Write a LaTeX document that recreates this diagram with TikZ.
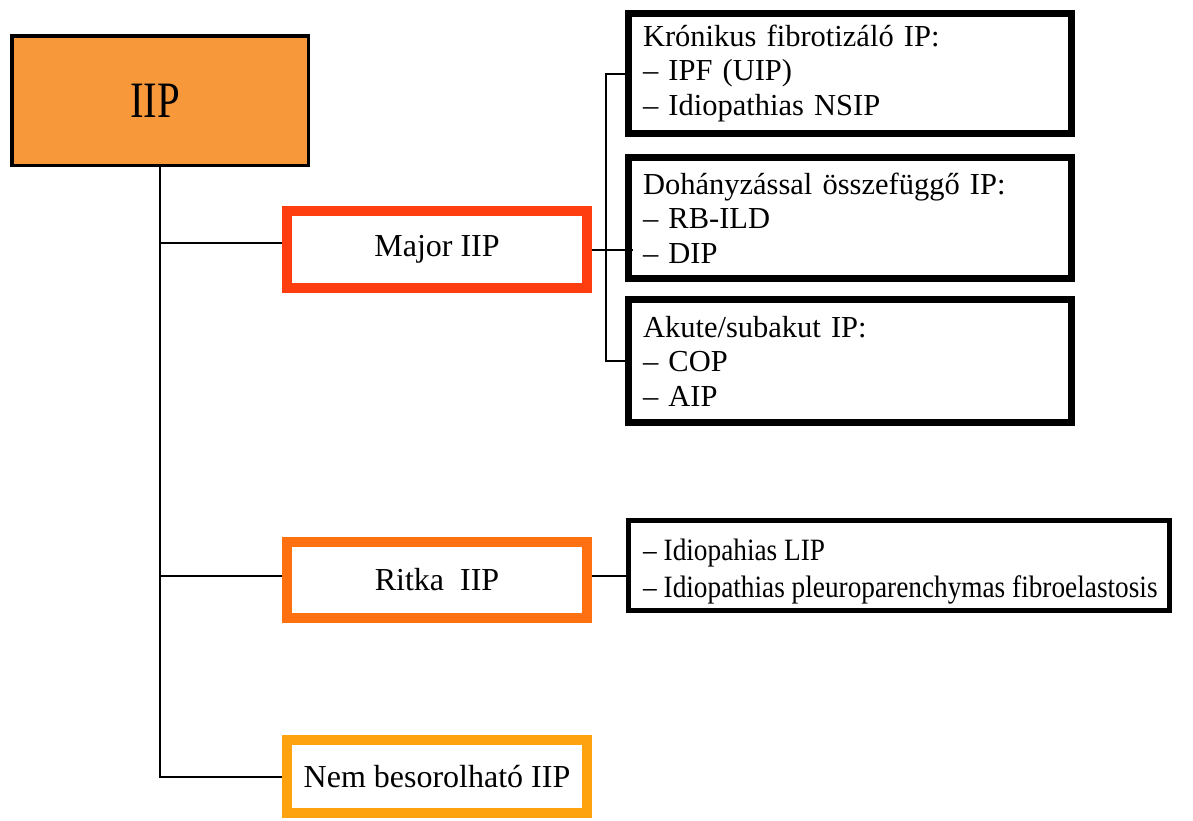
\documentclass[tikz,border=0pt]{standalone}
\usepackage{fontspec}
\setmainfont{Liberation Serif}
\usepackage{graphicx}

\definecolor{rootfill}{RGB}{247,152,58}
\definecolor{majorred}{RGB}{255,62,16}
\definecolor{rareorange}{RGB}{255,112,16}
\definecolor{otheryellow}{RGB}{255,162,16}

\tikzset{
  rootbox/.style={draw=black, line width=3.5pt, fill=rootfill, inner sep=0pt},
  groupbox/.style={draw=#1, line width=10pt, fill=white, inner sep=0pt,
                   minimum width=300pt, font=\fontsize{32}{36}\selectfont},
  listbox/.style={draw=black, line width=7pt, fill=white, inner xsep=14.5pt,
                  inner ysep=0pt, align=left, font=\fontsize{30.5}{34.5}\selectfont},
  link/.style={draw=black, line width=2pt}
}

\begin{document}
\begin{tikzpicture}[x=1pt, y=-1pt]
\useasboundingbox (0,0) rectangle (1193,820);

% root and the three main groups
\node[rootbox, minimum width=296.5pt, minimum height=129.5pt] (iip) at (160,100.5)
  {\hspace*{-10pt}\scalebox{0.8}[1]{\fontsize{51}{55}\selectfont IIP}};
\node[groupbox=majorred, minimum height=77pt] (major) at (437,249.5) {Major IIP};
\node[groupbox=rareorange, minimum height=76pt] (ritka) at (437,580) {Ritka~ IIP};
\node[groupbox=otheryellow, minimum height=73pt] (nem) at (437,776.5) {Nem besorolható IIP};

% subgroups of the major IIP
\node[listbox, text width=414pt, minimum height=120pt] (box1) at (850,73.5)
  {Krónikus fibrotizáló IP:\\– IPF (UIP)\\– Idiopathias NSIP};
\node[listbox, text width=414pt, minimum height=121pt] (box2) at (850,218)
  {Dohányzással összefüggő IP:\\– RB-ILD\\– DIP};
\node[listbox, text width=414pt, minimum height=123pt] (box3) at (850,361)
  {Akute/subakut IP:\\– COP\\– AIP};

% rare IIP list, set in a narrower cut
\node[draw=black, line width=5pt, fill=white, minimum width=541pt,
      minimum height=90pt] (box4) at (899,565.5) {};
\node[anchor=west, inner sep=0pt, font=\fontsize{31}{37}\selectfont] (box4text) at (643,572)
  {\scalebox{0.88}[1]{\begin{tabular}{@{}l@{}}
     – Idiopahias LIP\\
     – Idiopathias pleuroparenchymas fibroelastosis
   \end{tabular}}};

% trunk from the root
\draw[link] (iip.south) -- (iip.south |- nem.west) -- (nem.west);
\draw[link] ([yshift=7pt]iip.south |- major.west) -- ([yshift=7pt]major.west);
\draw[link] ([yshift=4pt]iip.south |- ritka.west) -- ([yshift=4pt]ritka.west);

% branch from the major IIP
\coordinate (bus) at (606,249.5);
\draw[link] (major.east) -- ([xshift=8pt]major.east -| box2.west);
\draw[link] (box1.west) -- (box1.west -| bus) -- (box3.west -| bus) -- (box3.west);

% branch from the rare IIP
\draw[link] ([yshift=4pt]ritka.east) -- ([yshift=4pt]ritka.east -| box4.west);
\end{tikzpicture}
\end{document}
